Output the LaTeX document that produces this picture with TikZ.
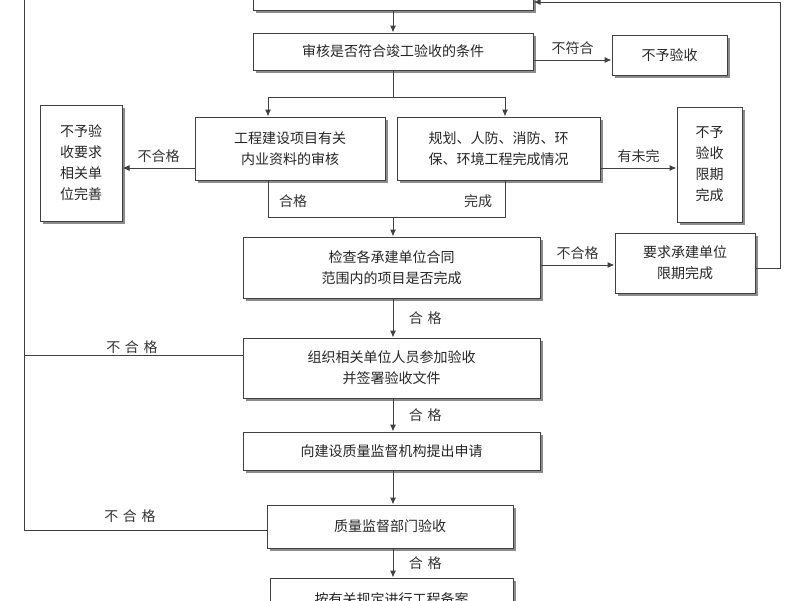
\documentclass[tikz,border=0pt]{standalone}
\usepackage{fontspec}
\setmainfont{Noto Sans CJK SC}
\usetikzlibrary{arrows.meta}
\begin{document}
\begin{tikzpicture}[x=1pt,y=-1pt,
  ln/.style={draw=black!75,line width=1pt},
  ar/.style={ln,-{Latex[length=7pt,width=6pt]}},
  lb/.style={font=\fontsize{14}{16}\selectfont,text=black!80}]
\useasboundingbox (0,0) rectangle (800,600);
\newcommand{\bxat}[6]{\fill[black!45] (#2+2.5,#3+2.5) rectangle (#4+2.5,#5+2.5);
  \node[draw=black!75,line width=1pt,fill=white,inner sep=0pt,font=\fontsize{14}{21}\selectfont,align=center,text=black!85,
   minimum width=#4-#2,minimum height=#5-#3] (#1) at ({(#2+#4)/2},{(#3+#5)/2}) {#6};}
\bxat{top}{253}{-20}{533}{10}{}
\bxat{shen}{253}{33}{533}{70}{审核是否符合竣工验收的条件}
\bxat{buyu}{612}{35}{727}{75}{不予验收}
\bxat{gc}{195}{117}{385}{180}{工程建设项目有关\\内业资料的审核}
\bxat{gh}{397}{117}{600}{180}{规划、人防、消防、环\\保、环境工程完成情况}
\bxat{lbox}{40}{105}{122}{221}{不予验\\收要求\\相关单\\位完善}
\bxat{rbox}{677}{107}{742}{222}{不予\\验收\\限期\\完成}
\bxat{jc}{243}{237}{540}{298}{检查各承建单位合同\\范围内的项目是否完成}
\bxat{yq}{615}{233}{755}{293}{要求承建单位\\限期完成}
\bxat{zz}{243}{338}{540}{398}{组织相关单位人员参加验收\\并签署验收文件}
\bxat{xj}{243}{432}{540}{470}{向建设质量监督机构提出申请}
\bxat{zl}{267}{505}{513}{548}{质量监督部门验收}
\bxat{ay}{270}{578}{513}{620}{按有关规定进行工程备案}
\coordinate (tl) at (24,0);
\draw[ar] (top.south -| 393,0) -- (shen.north -| 393,0);
\draw[ar] (shen.east |- 0,60) -- (buyu.west |- 0,60) node[lb,pos=0.5,above=2pt] {不符合};
\draw[ln] (shen.south -| 393,0) -- (393,97);
\draw[ar] (268,97) -- (gc.north -| 268,0);
\draw[ar] (505,97) -- (gh.north -| 505,0);
\draw[ln] (268,97) -- (505,97);
\draw[ar] (gc.west |- 0,168) -- (lbox.east |- 0,168) node[lb,midway,above=2pt] {不合格};
\draw[ar] (gh.east |- 0,168) -- (rbox.west |- 0,168) node[lb,midway,above=2pt] {有未完};
\draw[ln] (gc.south -| 268,0) -- (268,217) -- (505,217) -- (gh.south -| 505,0);
\node[lb] at (293,201) {合格};
\node[lb] at (478,201) {完成};
\draw[ar] (393,217) -- (jc.north -| 393,0);
\draw[ar] (jc.east |- 0,265) -- (yq.west |- 0,265) node[lb,midway,above=2pt] {不合格};
\draw[ln,-{Latex[length=7pt,width=6pt]}] (yq.east |- 0,268) -- (780,268) -- (780,2) -- (top.east |- 0,2);
\draw[ar] (jc.south -| 393,0) -- (zz.north -| 393,0) node[lb,midway,right=12pt] {合\,\,格};
\draw[ar] (zz.south -| 393,0) -- (xj.north -| 393,0) node[lb,midway,right=12pt] {合\,\,格};
\draw[ar] (xj.south -| 393,0) -- (zl.north -| 393,0);
\draw[ar] (zl.south -| 393,0) -- (ay.north -| 393,0) node[lb,midway,right=12pt] {合\,\,格};
\draw[ln] (zz.west |- 0,355) -- (24,355);
\node[lb] at (132,347) {不\,\,合\,\,格};
\draw[ln] (zl.west |- 0,530) -- (24,530) -- (tl);
\node[lb] at (130,516) {不\,\,合\,\,格};
\end{tikzpicture}
\end{document}
